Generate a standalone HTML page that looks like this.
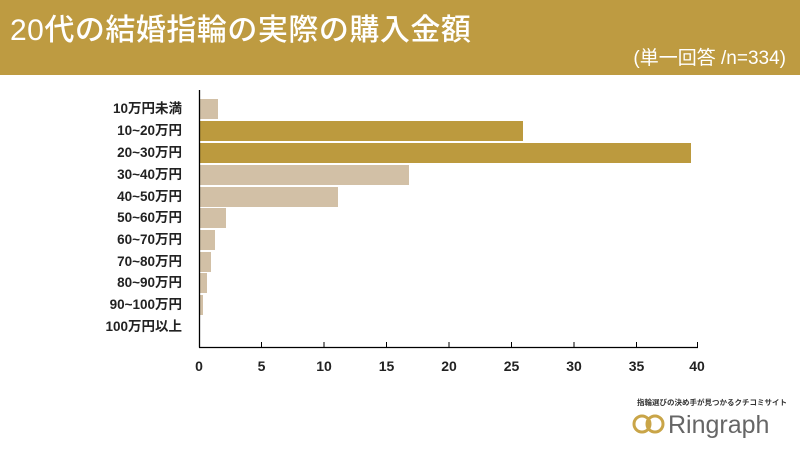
<!DOCTYPE html>
<html><head><meta charset="utf-8"><style>
body{margin:0;width:800px;height:450px;background:#fff;overflow:hidden;font-family:"Liberation Sans","Noto Sans CJK JP",sans-serif;}
</style></head><body>
<svg width="800" height="450" xmlns="http://www.w3.org/2000/svg" font-family="Liberation Sans, Noto Sans CJK JP, sans-serif">
<rect x="0" y="0" width="800" height="75" fill="#BE9B41"/>
<text x="10" y="40" font-size="30" fill="#fff" font-weight="500" letter-spacing="0.5">20代の結婚指輪の実際の購入金額</text>
<text x="786" y="64" font-size="19" fill="#fff" text-anchor="end">(単一回答 /n=334)</text>
<g fill="#D2C0A6">
<rect x="200" y="99" width="18" height="20"/>
<rect x="200" y="165" width="209" height="20"/>
<rect x="200" y="187" width="138" height="20"/>
<rect x="200" y="208" width="26" height="20"/>
<rect x="200" y="230" width="15" height="20"/>
<rect x="200" y="252" width="11" height="20"/>
<rect x="200" y="273" width="7" height="20"/>
<rect x="200" y="295" width="3" height="20"/>
</g>
<g fill="#BC9A3E">
<rect x="200" y="121" width="323" height="20"/>
<rect x="200" y="143" width="491" height="20"/>
</g>
<line x1="199.5" y1="90" x2="199.5" y2="347.5" stroke="#000" stroke-width="1.3"/>
<line x1="199" y1="347.5" x2="698" y2="347.5" stroke="#000" stroke-width="1.3"/>
<g stroke="#000" stroke-width="1">
<line x1="261.5" y1="342" x2="261.5" y2="347"/><line x1="324" y1="342" x2="324" y2="347"/><line x1="386.5" y1="342" x2="386.5" y2="347"/><line x1="449" y1="342" x2="449" y2="347"/><line x1="511.5" y1="342" x2="511.5" y2="347"/><line x1="574" y1="342" x2="574" y2="347"/><line x1="636.5" y1="342" x2="636.5" y2="347"/><line x1="697.5" y1="342" x2="697.5" y2="347"/>
</g>
<g font-size="14" fill="#222" text-anchor="middle" font-weight="bold">
<text x="199" y="371">0</text><text x="261.5" y="371">5</text><text x="324" y="371">10</text><text x="386.5" y="371">15</text><text x="449" y="371">20</text><text x="511.5" y="371">25</text><text x="574" y="371">30</text><text x="636.5" y="371">35</text><text x="697" y="371">40</text>
</g>
<g font-size="13.5" fill="#222" text-anchor="end" font-weight="bold">
<text x="182" y="113">10万円未満</text>
<text x="182" y="135">10~20万円</text>
<text x="182" y="157">20~30万円</text>
<text x="182" y="179">30~40万円</text>
<text x="182" y="201">40~50万円</text>
<text x="182" y="222">50~60万円</text>
<text x="182" y="244">60~70万円</text>
<text x="182" y="266">70~80万円</text>
<text x="182" y="287">80~90万円</text>
<text x="182" y="309">90~100万円</text>
<text x="182" y="331">100万円以上</text>
</g>
<text x="637" y="405" font-size="7.5" fill="#333" font-weight="bold">指輪選びの決め手が見つかるクチコミサイト</text>
<circle cx="642" cy="424" r="8" fill="none" stroke="#C9A548" stroke-width="3"/>
<circle cx="655" cy="424" r="8" fill="none" stroke="#C9A548" stroke-width="3"/>
<text x="668" y="433" font-size="25" fill="#666">Ringraph</text>
</svg>
</body></html>
